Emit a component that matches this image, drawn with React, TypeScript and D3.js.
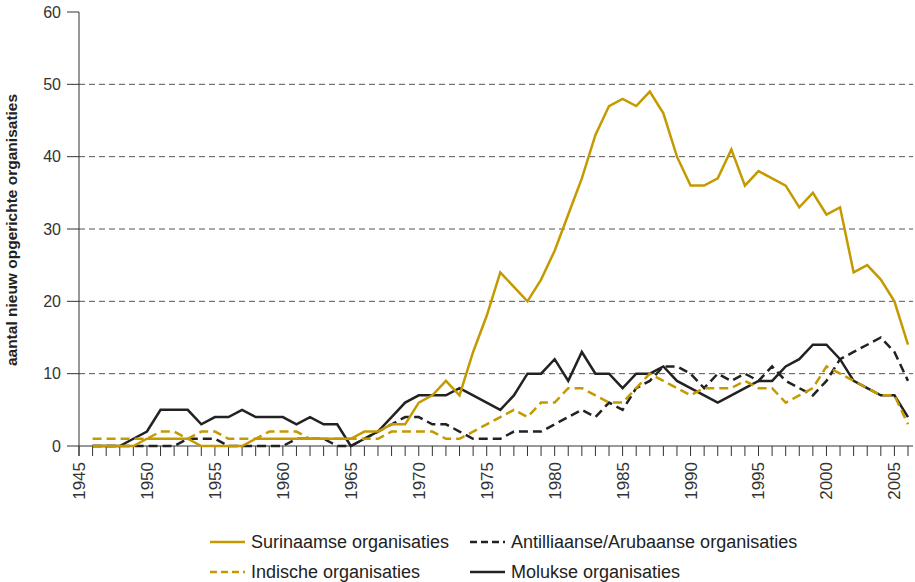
import React, { useEffect, useRef } from 'react'
import * as d3 from 'd3'

// jaren 1946 t/m 2006
const years = d3.range(1946, 2007)

const surinaamse = [
  0, 0, 0, 0, 1, 1, 1, 1, 0, 0,
  0, 0, 1, 1, 1, 1, 1, 1, 1, 1,
  2, 2, 3, 3, 6, 7, 9, 7, 13, 18,
  24, 22, 20, 23, 27, 32, 37, 43, 47, 48,
  47, 49, 46, 40, 36, 36, 37, 41, 36, 38,
  37, 36, 33, 35, 32, 33, 24, 25, 23, 20,
  14,
]
const indische = [
  1, 1, 1, 1, 1, 2, 2, 1, 2, 2,
  1, 1, 1, 2, 2, 2, 1, 1, 1, 1,
  1, 1, 2, 2, 2, 2, 1, 1, 2, 3,
  4, 5, 4, 6, 6, 8, 8, 7, 6, 6,
  8, 10, 9, 8, 7, 8, 8, 8, 9, 8,
  8, 6, 7, 8, 11, 10, 9, 8, 7, 7,
  3,
]
const antilliaanse = [
  0, 0, 0, 0, 0, 0, 0, 1, 1, 1,
  0, 0, 0, 0, 0, 1, 1, 1, 0, 0,
  1, 2, 3, 4, 4, 3, 3, 2, 1, 1,
  1, 2, 2, 2, 3, 4, 5, 4, 6, 5,
  8, 9, 11, 11, 10, 8, 10, 9, 10, 9,
  11, 9, 8, 7, 9, 12, 13, 14, 15, 13,
  9,
]
const molukse = [
  0, 0, 0, 1, 2, 5, 5, 5, 3, 4,
  4, 5, 4, 4, 4, 3, 4, 3, 3, 0,
  1, 2, 4, 6, 7, 7, 7, 8, 7, 6,
  5, 7, 10, 10, 12, 9, 13, 10, 10, 8,
  10, 10, 11, 9, 8, 7, 6, 7, 8, 9,
  9, 11, 12, 14, 14, 12, 9, 8, 7, 7,
  4,
]

const yTicks = [0, 10, 20, 30, 40, 50, 60]
const xLabelYears = [1945, 1950, 1955, 1960, 1965, 1970, 1975, 1980, 1985, 1990, 1995, 2000, 2005]

const GOLD = '#c49a00'
const DARK = '#222222'

const series = [
  { name: 'Molukse organisaties', values: molukse, color: DARK, dash: null },
  { name: 'Antilliaanse/Arubaanse organisaties', values: antilliaanse, color: DARK, dash: '9,5' },
  { name: 'Indische organisaties', values: indische, color: GOLD, dash: '9,5' },
  { name: 'Surinaamse organisaties', values: surinaamse, color: GOLD, dash: null },
]

const legendItems = [
  { name: 'Surinaamse organisaties', color: GOLD, dash: null, col: 0, row: 0 },
  { name: 'Antilliaanse/Arubaanse organisaties', color: DARK, dash: '7,4', col: 1, row: 0 },
  { name: 'Indische organisaties', color: GOLD, dash: '7,4', col: 0, row: 1 },
  { name: 'Molukse organisaties', color: DARK, dash: null, col: 1, row: 1 },
]

const font = '"Liberation Sans", Arial, sans-serif'

export default function App() {
  const ref = useRef<SVGSVGElement>(null)

  useEffect(() => {
    const width = 915
    const height = 582
    const svg = d3.select(ref.current)
    svg.selectAll('*').remove()

    const x = d3.scaleLinear().domain([1945, 2006]).range([79, 908])
    const y = d3.scaleLinear().domain([0, 60]).range([446, 12])
    const axisRight = 913

    // horizontale stippellijnen
    svg.append('g')
      .selectAll('line')
      .data(yTicks.filter(d => d > 0 && d < 60))
      .join('line')
      .attr('x1', x(1945)).attr('x2', axisRight)
      .attr('y1', d => y(d)).attr('y2', d => y(d))
      .attr('stroke', '#555')
      .attr('stroke-width', 1)
      .attr('stroke-dasharray', '6,4')

    // y-as
    svg.append('line')
      .attr('x1', x(1945)).attr('x2', x(1945))
      .attr('y1', y(60)).attr('y2', y(0) + 10)
      .attr('stroke', '#333').attr('stroke-width', 1)

    const yAxis = svg.append('g')
    yAxis.selectAll('line')
      .data(yTicks)
      .join('line')
      .attr('x1', x(1945) - 12).attr('x2', x(1945))
      .attr('y1', d => y(d)).attr('y2', d => y(d))
      .attr('stroke', '#333')
    yAxis.selectAll('text')
      .data(yTicks)
      .join('text')
      .attr('x', 61)
      .attr('y', d => y(d))
      .attr('dy', '0.35em')
      .attr('text-anchor', 'end')
      .attr('font-family', font)
      .attr('font-size', 16)
      .attr('fill', '#333')
      .text(d => d)

    svg.append('text')
      .attr('transform', `translate(17,230) rotate(-90)`)
      .attr('text-anchor', 'middle')
      .attr('font-family', font)
      .attr('font-weight', 'bold')
      .attr('font-size', 15.5)
      .attr('fill', '#222')
      .text('aantal nieuw opgerichte organisaties')

    // x-as
    svg.append('line')
      .attr('x1', x(1945)).attr('x2', axisRight)
      .attr('y1', y(0)).attr('y2', y(0))
      .attr('stroke', '#333').attr('stroke-width', 1)

    const xAxis = svg.append('g')
    xAxis.selectAll('line')
      .data(d3.range(1945, 2007))
      .join('line')
      .attr('x1', d => x(d)).attr('x2', d => x(d))
      .attr('y1', y(0)).attr('y2', y(0) + 10)
      .attr('stroke', '#333')
    xAxis.selectAll('text')
      .data(xLabelYears)
      .join('text')
      .attr('transform', d => `translate(${x(d)},${y(0) + 16}) rotate(-90)`)
      .attr('dy', '0.35em')
      .attr('text-anchor', 'end')
      .attr('font-family', font)
      .attr('font-size', 17)
      .attr('fill', '#333')
      .text(d => d)

    // lijnen
    const line = d3.line<number>()
      .x((_, i) => x(years[i]))
      .y(d => y(d))

    svg.append('g')
      .selectAll('path')
      .data(series)
      .join('path')
      .attr('d', d => line(d.values))
      .attr('fill', 'none')
      .attr('stroke', d => d.color)
      .attr('stroke-width', 2.5)
      .attr('stroke-linejoin', 'miter')
      .attr('stroke-dasharray', d => d.dash)

    // legenda
    const legend = svg.append('g')
      .selectAll('g')
      .data(legendItems)
      .join('g')
      .attr('transform', d => `translate(${d.col === 0 ? 210 : 470},${d.row === 0 ? 542 : 572})`)
    legend.append('line')
      .attr('x1', 0).attr('x2', 35)
      .attr('stroke', d => d.color)
      .attr('stroke-width', 2.5)
      .attr('stroke-dasharray', d => d.dash)
    legend.append('text')
      .attr('x', 41)
      .attr('dy', '0.35em')
      .attr('font-family', font)
      .attr('font-size', 18)
      .attr('fill', '#222')
      .text(d => d.name)

    svg.attr('width', width).attr('height', height)
  }, [])

  return (
    <svg ref={ref} width={915} height={582}
      style={{ position: 'absolute', left: 0, top: 0, background: '#fff' }} />
  )
}
